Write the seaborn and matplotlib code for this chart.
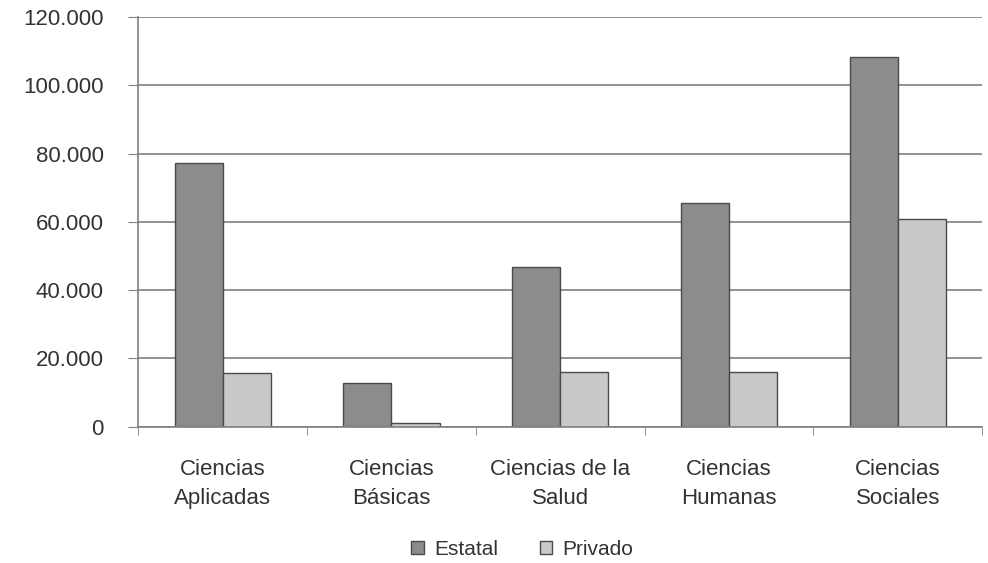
import pandas as pd
import numpy as np
import matplotlib.pyplot as plt
import matplotlib.ticker as mticker
import seaborn as sns

sns.set_style('white')
plt.rcParams['font.family'] = ['Liberation Sans', 'DejaVu Sans']

# ── data ─────────────────────────────────────────────
areas = ['Ciencias\nAplicadas', 'Ciencias\nBásicas', 'Ciencias de la\nSalud',
         'Ciencias\nHumanas', 'Ciencias\nSociales']
estatal = [77300, 12900, 46800, 65600, 108300]
privado = [15800, 1200, 16100, 16100, 60900]
series = ['Estatal', 'Privado']

df = pd.DataFrame({
    'Area': areas * 2,
    'Sector': ['Estatal'] * len(areas) + ['Privado'] * len(areas),
    'Valor': estatal + privado,
})

DARK = '#8c8c8c'
LIGHT = '#c9c9c9'
EDGE = '#4a4a4a'
GRID = '#808080'
TXT = '#333333'

fig = plt.figure(figsize=(9.88, 5.63), dpi=100)
ax = fig.add_axes([0.14, 0.242, 0.854, 0.728])

sns.barplot(data=df, x='Area', y='Valor', hue='Sector', hue_order=series,
            palette=[DARK, LIGHT], width=0.57, edgecolor=EDGE, linewidth=1,
            ax=ax, legend=True)

ax.set_ylim(0, 120000)
ax.set_xlim(-0.5, 4.5)
ax.yaxis.set_major_locator(mticker.MultipleLocator(20000))
ax.yaxis.set_major_formatter(mticker.FuncFormatter(
    lambda v, p: f'{int(v):,}'.replace(',', '.')))
ax.grid(axis='y', color=GRID, linewidth=1.2)
ax.set_axisbelow(True)

for s in ['top', 'right']:
    ax.spines[s].set_visible(False)
ax.spines['left'].set_color(GRID)
ax.spines['bottom'].set_color(GRID)
ax.spines['left'].set_linewidth(1.2)
ax.spines['bottom'].set_linewidth(1.2)

ax.tick_params(axis='y', left=True, length=7, color=GRID, labelsize=16,
               labelcolor=TXT, pad=18)
ax.tick_params(axis='x', which='major', length=0, labelsize=16,
               labelcolor=TXT, pad=23)
for lbl in ax.get_xticklabels():
    lbl.set_linespacing(1.5)
ax.set_xticks(np.arange(-0.5, 5.0, 1.0), minor=True)
ax.tick_params(axis='x', which='minor', bottom=True, length=6, color=GRID)
ax.set_xlabel('')
ax.set_ylabel('')

ax.legend(loc='center', bbox_to_anchor=(0.455, -0.30), ncol=2,
          frameon=False, fontsize=15, handlelength=0.6, handleheight=0.6,
          columnspacing=2.0, handletextpad=0.5, labelcolor=TXT)

plt.savefig('out.png', dpi=100)
